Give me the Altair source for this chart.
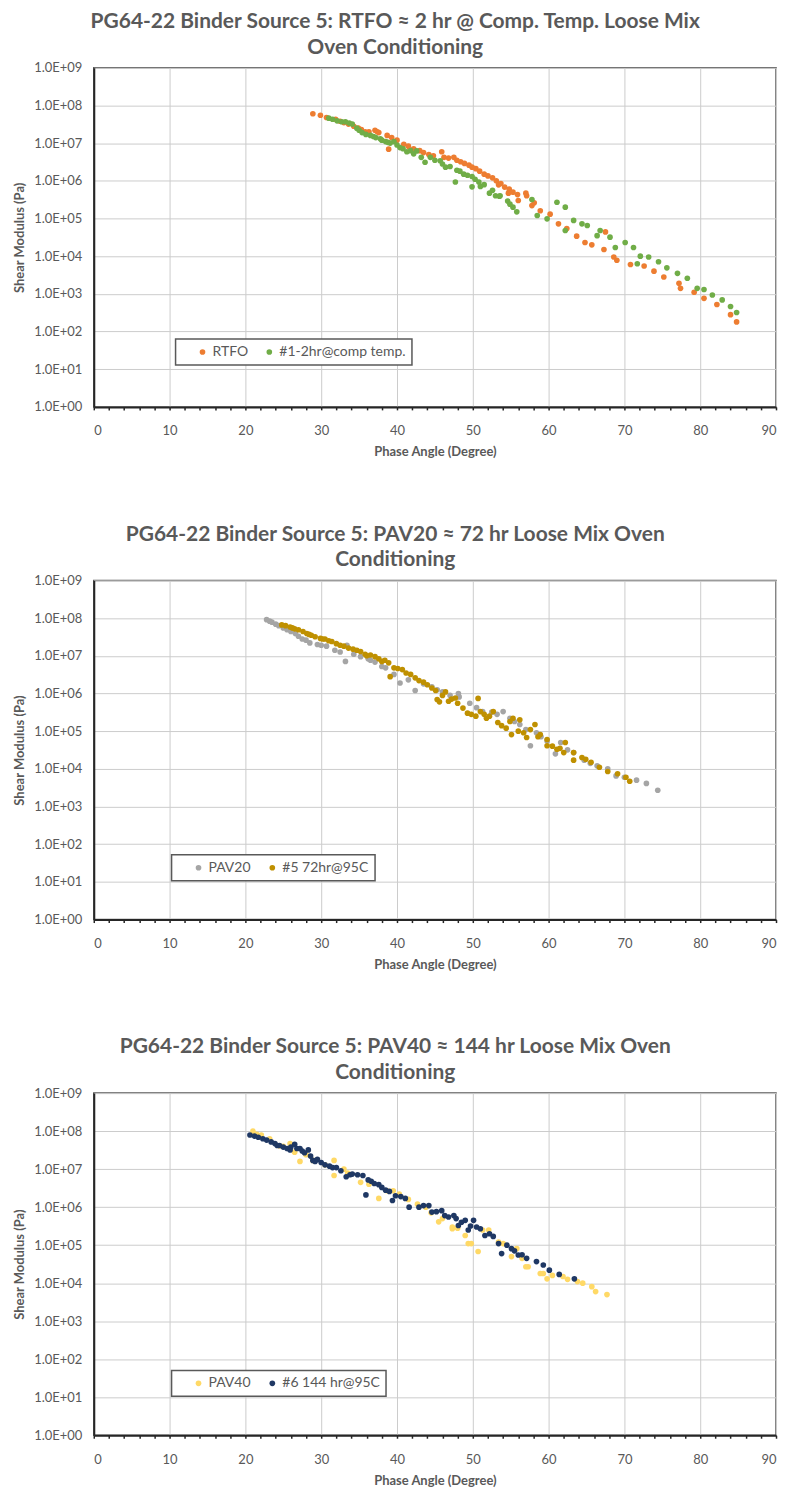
import altair as alt
import pandas as pd

TEXT = "#595959"
FONT = "Lato"

# ---------------- Panel 1 ----------------
p1_title = ["PG64-22 Binder Source 5: RTFO \u2248 2 hr @ Comp. Temp. Loose Mix", "Oven Conditioning"]
p1_names = ["RTFO", "#1-2hr@comp temp."]
p1_colors = ["#ED7D31", "#70AD47"]

rtfo_x = [28.9, 29.9, 30.7, 31.9, 32.5, 33.0, 33.6, 34.3, 34.9, 35.3, 35.8, 36.3, 37.1, 37.4, 37.6,
          38.7, 38.9, 39.3, 40.0, 40.9, 41.5, 42.2, 43.0, 43.5, 44.2, 44.8, 45.9, 46.2, 46.8, 47.5,
          47.9, 48.4, 48.9, 49.5, 49.9, 50.4, 50.9, 51.5, 52.0, 52.6, 53.1, 53.4, 53.7, 54.2, 54.7,
          54.8, 55.3, 55.9, 56.0, 57.0, 57.1, 57.8, 58.1, 58.9, 60.2, 61.3, 62.4, 63.7, 64.8, 65.7,
          67.3, 67.5, 68.6, 69.0, 70.8, 72.6, 73.9, 75.2, 77.2, 77.4, 79.2, 80.5, 82.2, 84.0, 84.8]
rtfo_g = [6.0e7, 5.5e7, 4.8e7, 4.3e7, 3.8e7, 3.5e7, 3.2e7, 2.8e7, 2.5e7, 2.3e7, 2.0e7, 2.0e7, 2.2e7, 2.0e7, 1.9e7,
          1.6e7, 6.9e6, 1.4e7, 1.2e7, 9.3e6, 8.3e6, 7.1e6, 6.3e6, 5.6e6, 5.0e6, 4.6e6, 5.9e6, 4.2e6, 4.0e6, 4.2e6,
          3.5e6, 3.2e6, 2.9e6, 2.6e6, 2.3e6, 2.1e6, 1.8e6, 1.5e6, 1.35e6, 1.2e6, 1.0e6, 7.8e5, 8.5e5, 6.8e5, 4.7e5,
          6.0e5, 5.0e5, 4.3e5, 3.0e5, 4.7e5, 4.0e5, 2.2e5, 2.6e5, 1.6e5, 1.3e5, 7.2e4, 5.4e4, 3.4e4, 2.3e4, 2.0e4,
          1.5e4, 4.4e4, 9.5e3, 7.8e3, 6.0e3, 5.5e3, 4.0e3, 2.8e3, 1.9e3, 1.4e3, 1.1e3, 7.6e2, 5.2e2, 2.8e2, 1.8e2]

comp_x = [31.0, 31.5, 32.1, 32.7, 33.2, 33.7, 34.1, 34.7, 35.0, 35.4, 35.9, 36.5, 36.9, 37.2, 37.8,
          38.0, 38.5, 38.8, 39.1, 39.6, 40.0, 40.4, 40.8, 41.3, 41.8, 42.2, 42.6, 43.2, 43.7, 44.4,
          45.0, 45.7, 46.0, 46.4, 47.0, 47.7, 47.9, 48.3, 48.8, 49.3, 49.9, 49.9, 50.3, 50.8, 51.0,
          51.5, 52.2, 52.6, 53.0, 53.5, 53.6, 54.6, 54.9, 55.3, 55.8, 57.8, 58.5, 59.8, 61.1, 62.2,
          62.2, 63.3, 64.4, 65.1, 66.4, 66.8, 68.1, 68.8, 70.1, 71.2, 71.7, 72.1, 73.2, 74.5, 75.6,
          77.0, 78.3, 79.6, 80.5, 81.6, 82.9, 84.0, 84.8]
comp_g = [4.6e7, 4.3e7, 3.9e7, 3.7e7, 3.7e7, 3.4e7, 3.2e7, 2.5e7, 2.2e7, 1.9e7, 1.7e7, 1.6e7, 1.5e7, 1.4e7, 1.3e7,
          1.2e7, 1.1e7, 1.05e7, 1.0e7, 1.1e7, 8.9e6, 7.6e6, 7.1e6, 5.9e6, 6.3e6, 5.2e6, 6.2e6, 4.2e6, 3.1e6, 4.2e6,
          3.5e6, 3.4e6, 2.8e6, 2.3e6, 2.4e6, 9.3e5, 1.9e6, 1.8e6, 1.5e6, 1.4e6, 6.9e5, 1.3e6, 1.1e6, 9.3e5, 7.1e5,
          7.9e5, 4.7e5, 5.6e5, 4.0e5, 3.9e5, 4.0e5, 2.9e5, 2.4e5, 2.0e5, 1.5e5, 3.2e5, 1.2e5, 9.8e4, 2.7e5, 2.0e5,
          4.8e4, 8.9e4, 7.2e4, 6.5e4, 3.5e4, 4.8e4, 3.2e4, 1.7e4, 2.3e4, 1.7e4, 6.3e3, 1.0e4, 9.5e3, 7.1e3, 4.9e3,
          3.5e3, 2.6e3, 1.4e3, 1.3e3, 9.3e2, 6.9e2, 4.6e2, 3.2e2]

# ---------------- Panel 2 ----------------
p2_title = ["PG64-22 Binder Source 5: PAV20 \u2248 72 hr Loose Mix Oven", "Conditioning"]
p2_names = ["PAV20", "#5 72hr@95C"]
p2_colors = ["#A5A5A5", "#BF9000"]

pav20_x = [22.8, 23.2, 23.5, 24.0, 24.4, 25.0, 25.5, 26.0, 26.6, 27.0, 27.5, 28.0, 28.5, 29.5, 30.0,
           30.7, 31.8, 32.5, 33.2, 33.4, 34.3, 35.2, 36.2, 36.5, 37.1, 38.0, 38.5, 39.6, 40.4, 41.5,
           42.4, 43.5, 44.6, 45.3, 46.0, 47.0, 48.1, 48.2, 49.6, 50.5, 51.3, 52.5, 53.2, 54.0, 54.9,
           55.5, 56.2, 57.0, 57.6, 58.4, 59.0, 59.8, 60.9, 61.6, 62.5, 63.3, 64.7, 65.5, 66.4, 67.8,
           68.9, 70.0, 71.6, 72.9, 74.4]
pav20_g = [9.1e7, 8.3e7, 7.8e7, 6.9e7, 6.3e7, 5.5e7, 4.9e7, 4.4e7, 3.9e7, 3.3e7, 2.8e7, 2.6e7, 2.2e7, 2.0e7, 1.9e7,
           1.8e7, 1.4e7, 1.26e7, 7.1e6, 1.9e7, 1.1e7, 9.5e6, 8.3e6, 7.6e6, 6.8e6, 5.2e6, 4.8e6, 3.2e6, 1.9e6, 2.3e6,
           1.2e6, 1.8e6, 1.5e6, 1.26e6, 1.1e6, 8.9e5, 1.0e6, 8.1e5, 5.5e5, 4.2e5, 3.3e5, 3.2e5, 2.8e5, 3.3e5, 2.2e5,
           1.8e5, 1.5e5, 1.1e5, 4.1e4, 9.1e4, 7.1e4, 5.5e4, 2.5e4, 5.0e4, 3.2e4, 2.7e4, 1.7e4, 1.4e4, 1.2e4, 1.0e4,
           6.5e3, 6.0e3, 5.0e3, 4.1e3, 2.7e3]

c5_x = [24.8, 25.3, 25.9, 26.2, 26.5, 27.0, 27.6, 28.1, 28.4, 28.7, 29.2, 29.9, 30.2, 30.5, 31.0,
        31.4, 32.0, 32.5, 33.0, 33.6, 34.2, 34.7, 35.2, 35.8, 36.0, 36.5, 37.1, 37.6, 38.0, 38.4,
        38.9, 39.1, 39.6, 40.1, 40.7, 41.2, 41.8, 42.4, 42.9, 43.5, 44.0, 44.6, 45.1, 45.3, 45.6,
        46.0, 46.4, 46.8, 47.2, 47.7, 48.0, 48.7, 49.3, 49.8, 50.4, 50.7, 51.0, 51.5, 51.8, 52.2,
        52.7, 53.3, 53.8, 54.4, 54.9, 55.1, 55.3, 56.0, 56.2, 56.7, 57.1, 57.6, 58.2, 58.6, 58.9,
        59.8, 59.8, 60.5, 61.1, 61.5, 62.0, 62.2, 63.3, 63.3, 64.4, 64.9, 65.6, 66.7, 67.8, 69.1,
        70.2, 70.7]
c5_g = [6.6e7, 6.3e7, 5.8e7, 5.5e7, 5.2e7, 4.9e7, 4.4e7, 3.9e7, 3.7e7, 3.5e7, 3.2e7, 2.9e7, 2.8e7, 2.8e7, 2.5e7,
        2.4e7, 2.1e7, 1.9e7, 1.8e7, 1.6e7, 1.5e7, 1.4e7, 1.3e7, 1.1e7, 1.0e7, 1.05e7, 9.5e6, 8.3e6, 7.1e6, 7.6e6,
        6.5e6, 2.8e6, 4.8e6, 4.6e6, 4.3e6, 3.5e6, 3.2e6, 2.6e6, 2.2e6, 2.0e6, 1.7e6, 1.4e6, 1.2e6, 6.9e5, 6.0e5,
        8.9e5, 1.1e6, 6.2e5, 7.1e5, 7.6e5, 5.5e5, 4.1e5, 3.0e5, 2.8e5, 2.5e5, 7.4e5, 3.3e5, 2.8e5, 2.2e5, 2.5e5,
        3.3e5, 1.7e5, 1.4e5, 1.2e5, 1.8e5, 8.1e4, 2.2e5, 1.0e5, 2.0e5, 9.1e4, 6.8e4, 1.1e5, 1.5e5, 7.1e4, 8.1e4,
        6.0e4, 4.1e4, 4.0e4, 3.3e4, 3.5e4, 2.7e4, 5.0e4, 2.7e4, 1.7e4, 2.0e4, 1.8e4, 1.5e4, 1.1e4, 8.5e3, 7.4e3,
        6.0e3, 4.7e3]

# ---------------- Panel 3 ----------------
p3_title = ["PG64-22 Binder Source 5: PAV40 \u2248 144 hr Loose Mix Oven", "Conditioning"]
p3_names = ["PAV40", "#6 144 hr@95C"]
p3_colors = ["#FFD966", "#1F3864"]

pav40_x = [21.0, 21.5, 22.1, 23.2, 24.5, 25.0, 25.9, 26.5, 27.2, 28.0, 28.9, 30.5, 31.7, 31.7, 33.0,
           33.5, 35.2, 36.3, 37.6, 38.7, 39.5, 40.3, 41.5, 42.7, 43.8, 44.5, 45.5, 46.0, 47.3, 47.3,
           48.0, 49.0, 49.4, 49.8, 50.7, 51.3, 52.1, 53.4, 54.0, 55.1, 55.5, 55.8, 56.5, 57.0, 57.3,
           58.9, 59.3, 59.8, 60.5, 61.9, 62.5, 63.8, 64.5, 65.7, 66.2, 67.7]
pav40_g = [1.0e8, 8.3e7, 7.9e7, 6.3e7, 4.1e7, 4.0e7, 4.7e7, 2.8e7, 1.6e7, 2.4e7, 1.7e7, 1.3e7, 1.7e7, 6.8e6, 1.0e7,
           7.9e6, 4.5e6, 4.0e6, 1.7e6, 2.7e6, 2.7e6, 2.2e6, 1.6e6, 1.2e6, 1.0e6, 7.1e5, 4.1e5, 5.0e5, 2.7e5, 3.0e5,
           2.8e5, 1.8e5, 1.1e5, 1.1e5, 6.8e4, 2.5e5, 2.5e5, 1.2e5, 1.1e5, 5.0e4, 7.4e4, 8.1e4, 4.5e4, 2.7e4, 2.7e4,
           1.8e4, 1.8e4, 1.3e4, 1.6e4, 1.5e4, 1.26e4, 1.1e4, 1.0e4, 8.1e3, 6.0e3, 5.0e3]

c6_x = [20.6, 21.2, 21.7, 22.3, 22.8, 23.4, 23.9, 24.2, 24.5, 25.0, 25.5, 25.9, 26.0, 26.5, 26.8,
        27.2, 27.5, 27.8, 28.3, 28.6, 28.9, 29.2, 29.5, 30.0, 30.5, 31.1, 31.5, 32.0, 32.6, 33.3,
        33.8, 34.1, 34.8, 35.5, 35.9, 36.2, 36.6, 37.0, 37.6, 38.0, 38.5, 39.0, 39.4, 39.8, 40.5,
        41.1, 41.6, 42.9, 43.5, 44.2, 44.6, 45.2, 45.9, 46.3, 46.8, 47.5, 47.8, 48.1, 48.5, 49.0,
        49.4, 49.7, 50.1, 50.5, 51.0, 51.6, 52.2, 52.7, 53.4, 53.8, 54.5, 55.1, 55.5, 56.0, 56.5,
        57.1, 58.4, 59.3, 60.1, 61.4, 63.4]
c6_g = [7.9e7, 7.4e7, 6.9e7, 6.3e7, 5.8e7, 5.2e7, 4.7e7, 4.2e7, 4.2e7, 3.8e7, 3.5e7, 3.2e7, 3.8e7, 4.5e7, 3.5e7,
        3.5e7, 3.0e7, 2.7e7, 3.2e7, 2.2e7, 1.7e7, 1.6e7, 1.8e7, 1.5e7, 1.3e7, 1.2e7, 1.1e7, 1.1e7, 9.1e6, 6.3e6,
        7.1e6, 7.4e6, 7.1e6, 6.8e6, 2.1e6, 5.2e6, 4.8e6, 4.2e6, 3.9e6, 3.3e6, 2.8e6, 2.6e6, 1.5e6, 2.0e6, 1.9e6,
        1.7e6, 1.0e6, 1.0e6, 1.1e6, 1.1e6, 7.4e5, 7.6e5, 8.1e5, 6.0e5, 5.5e5, 6.0e5, 5.0e5, 3.3e5, 4.0e5, 4.5e5,
        2.5e5, 3.2e5, 4.5e5, 3.0e5, 2.7e5, 1.8e5, 2.0e5, 1.7e5, 1.1e5, 6.0e4, 1.0e5, 8.1e4, 7.1e4, 5.5e4, 5.6e4,
        4.5e4, 3.7e4, 3.0e4, 2.2e4, 1.7e4, 1.3e4]

x_ticks = list(range(0, 91, 2))
y_ticks = [1, 10, 100, 1e3, 1e4, 1e5, 1e6, 1e7, 1e8, 1e9]


def panel(title, names, colors, xs, gs, leg_x, leg_y, width, height):
    rows = []
    for k, (name, xv, gv) in enumerate(zip(names, xs, gs)):
        for a, b in zip(xv, gv):
            rows.append({"x": a, "g": b, "series": name, "order": k})
    df = pd.DataFrame(rows)
    x_axis = alt.Axis(
        values=x_ticks,
        labelExpr="datum.value % 10 == 0 ? datum.label : ''",
        gridOpacity={"condition": {"test": "datum.value % 10 == 0", "value": 1}, "value": 0},
        gridColor="#cccccc", gridWidth=1,
        tickSize=3, tickWidth=1.5, tickColor="#262626",
        domainColor="#262626", domainWidth=2,
        labelPadding=15, labelFontSize=13, labelColor=TEXT, labelFont=FONT,
        title="Phase Angle (Degree)", titleFontSize=13, titleColor=TEXT, titleFont=FONT,
        titleFontWeight="bold", titlePadding=8,
    )
    y_axis = alt.Axis(
        values=y_ticks,
        labelExpr="'1.0E+0' + round(log(datum.value) / LN10)",
        gridColor="#cccccc", gridWidth=1,
        ticks=False,
        domainColor="#262626", domainWidth=2,
        labelPadding=12, labelFontSize=13, labelColor=TEXT, labelFont=FONT,
        title="Shear Modulus (Pa)", titleFontSize=13, titleColor=TEXT, titleFont=FONT,
        titleFontWeight="bold", titlePadding=7,
    )
    legend = alt.Legend(
        title=None, orient="none", legendX=leg_x, legendY=leg_y, direction="horizontal",
        fillColor="white", strokeColor="#595959", padding=6, columnPadding=0,
        labelFontSize=14, labelColor=TEXT, labelFont=FONT, labelOffset=3, symbolOffset=14,
        symbolType="circle", symbolSize=32, symbolStrokeWidth=0,
    )
    return (
        alt.Chart(df)
        .mark_circle(size=32, opacity=1)
        .encode(
            x=alt.X("x:Q", scale=alt.Scale(domain=[0, 90], nice=False), axis=x_axis),
            y=alt.Y("g:Q", scale=alt.Scale(type="log", domain=[1, 1e9], nice=False), axis=y_axis),
            color=alt.Color("series:N", scale=alt.Scale(domain=names, range=colors), legend=legend),
            order=alt.Order("order:Q"),
        )
        .properties(
            width=width, height=height,
            title=alt.TitleParams(text=title, fontSize=21, font=FONT, fontWeight="bold", color=TEXT,
                                  anchor="middle", frame="bounds", lineHeight=26, offset=4),
        )
    )


c1 = panel(p1_title, p1_names, p1_colors, [rtfo_x, comp_x], [rtfo_g, comp_g], 82, 272, 684, 340)
c2 = panel(p2_title, p2_names, p2_colors, [pav20_x, c5_x], [pav20_g, c5_g], 78, 275, 684, 340)
c3 = panel(p3_title, p3_names, p3_colors, [pav40_x, c6_x], [pav40_g, c6_g], 78, 278, 684, 343)

chart = (
    alt.vconcat(c1, c2, c3, spacing=63)
    .resolve_scale(color="independent")
    .resolve_legend(color="independent")
    .configure_view(stroke="#595959", strokeWidth=1.5)
    .configure_legend(strokeWidth=1.5)
    .properties(background="white", padding={"left": 4, "top": 0, "right": 5, "bottom": 2})
)

chart.save("out.html", embed_options={"renderer": "svg", "actions": False})
